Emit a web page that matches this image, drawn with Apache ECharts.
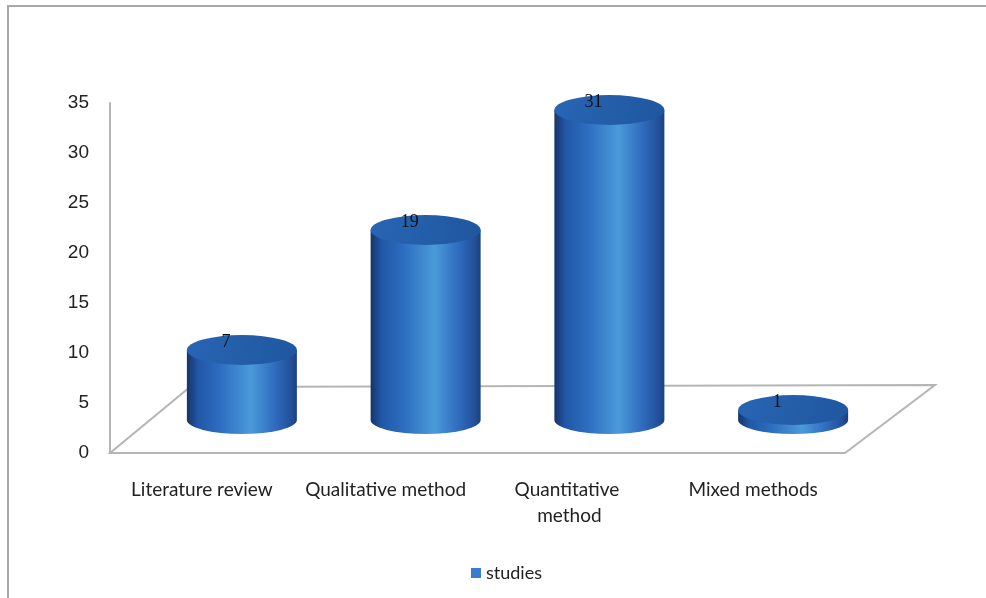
<!DOCTYPE html>
<html>
<head>
<meta charset="utf-8">
<script src="https://cdn.jsdelivr.net/npm/echarts@6/dist/echarts.min.js"></script>
<style>
html,body{margin:0;padding:0;background:#fff;}
#chart{width:986px;height:598px;}
</style>
</head>
<body>
<div id="chart"></div>
<script>
const categories = ['Literature review', 'Qualitative method', 'Quantitative method', 'Mixed methods'];
const studies = [7, 19, 31, 1];
const seriesName = 'studies';
const yMin = 0, yMax = 35, yStep = 5;

const chart = echarts.init(document.getElementById('chart'), null, {renderer: 'canvas'});

const DX = 40, DY = -33;      // half depth offset (bar centre sits mid-depth)
const RX = 55, RY = 15;

function sideGradient() {
  return new echarts.graphic.LinearGradient(0, 0, 1, 0, [
    {offset: 0, color: '#16346a'},
    {offset: 0.1, color: '#2157a6'},
    {offset: 0.3, color: '#2d6dc0'},
    {offset: 0.58, color: '#4a9ad9'},
    {offset: 0.8, color: '#2f6cbe'},
    {offset: 0.95, color: '#224f98'},
    {offset: 1, color: '#1b417f'}
  ]);
}

function renderCylinder(params, api) {
  const idx = api.value(0);
  const val = api.value(1);
  const top = api.coord([idx, val]);
  const base = api.coord([idx, 0]);
  const cx = top[0] + DX;
  const ty = top[1] + DY;
  const by = base[1] + DY;
  const L = cx - RX, R = cx + RX;
  const body = 'M' + L + ' ' + ty + ' L' + L + ' ' + by +
    ' A' + RX + ' ' + (RY - 1) + ' 0 0 0 ' + R + ' ' + by +
    ' L' + R + ' ' + ty + ' Z';
  const topE = 'M' + L + ' ' + ty +
    ' A' + RX + ' ' + RY + ' 0 1 1 ' + R + ' ' + ty +
    ' A' + RX + ' ' + RY + ' 0 1 1 ' + L + ' ' + ty + ' Z';
  return {
    type: 'group',
    children: [
      {type: 'path', shape: {pathData: body}, style: {fill: sideGradient()}},
      {type: 'path', shape: {pathData: topE}, style: {
        fill: new echarts.graphic.LinearGradient(0, 0, 1, 1, [
          {offset: 0, color: '#2865b3'},
          {offset: 1, color: '#1f579f'}
        ])
      }},
      {type: 'text', x: cx - 16, y: ty - 8, style: {
        text: String(val), fill: '#111', font: '18px "Liberation Serif", serif',
        align: 'center', verticalAlign: 'middle'
      }}
    ]
  };
}

function renderFloor(params, api) {
  const cs = params.coordSys;
  const x0 = cs.x, x1 = cs.x + cs.width, y0 = cs.y + cs.height;
  return {
    type: 'group',
    silent: true,
    children: [{
      type: 'polygon',
      shape: {points: [[x0, y0], [x1, y0], [x1 + 90, y0 - 68], [x0 + 80, y0 - 66]]},
      style: {fill: 'none', stroke: '#b5b5b5', lineWidth: 2}
    }]
  };
}

const option = {
  backgroundColor: '#ffffff',
  animation: false,
  graphic: [
    {type: 'polyline', shape: {points: [[8, 598], [8, 6], [986, 6]]},
     style: {fill: 'none', stroke: '#a8a8a8', lineWidth: 2}, z: 10}
  ],
  grid: {left: 110, right: 141, top: 103, bottom: 145},
  legend: {
    data: [seriesName],
    left: 466, top: 559,
    icon: 'rect', itemWidth: 10, itemHeight: 10, itemGap: 6,
    textStyle: {fontFamily: 'Lato', fontSize: 18, color: '#222'}
  },
  xAxis: {
    type: 'category',
    data: categories,
    axisLine: {show: false},
    axisTick: {show: false},
    axisLabel: {
      margin: 24, fontFamily: 'Lato', fontSize: 19, color: '#222',
      width: 172, overflow: 'break', lineHeight: 26, interval: 0
    }
  },
  yAxis: {
    type: 'value',
    min: yMin, max: yMax, interval: yStep,
    splitLine: {show: false},
    axisTick: {show: false},
    axisLine: {show: true, lineStyle: {color: '#b5b5b5', width: 2}},
    axisLabel: {margin: 21, fontFamily: '"Liberation Sans", Arial', fontSize: 19, color: '#222'}
  },
  series: [
    {
      name: 'floor', type: 'custom', renderItem: renderFloor,
      data: [[0, 0]], silent: true, z: 1, tooltip: {show: false}
    },
    {
      name: seriesName, type: 'custom', renderItem: renderCylinder,
      itemStyle: {color: '#3a7dd0'},
      encode: {x: 0, y: 1},
      data: studies.map((v, i) => [i, v]),
      z: 2
    }
  ]
};
chart.setOption(option);
</script>
</body>
</html>
